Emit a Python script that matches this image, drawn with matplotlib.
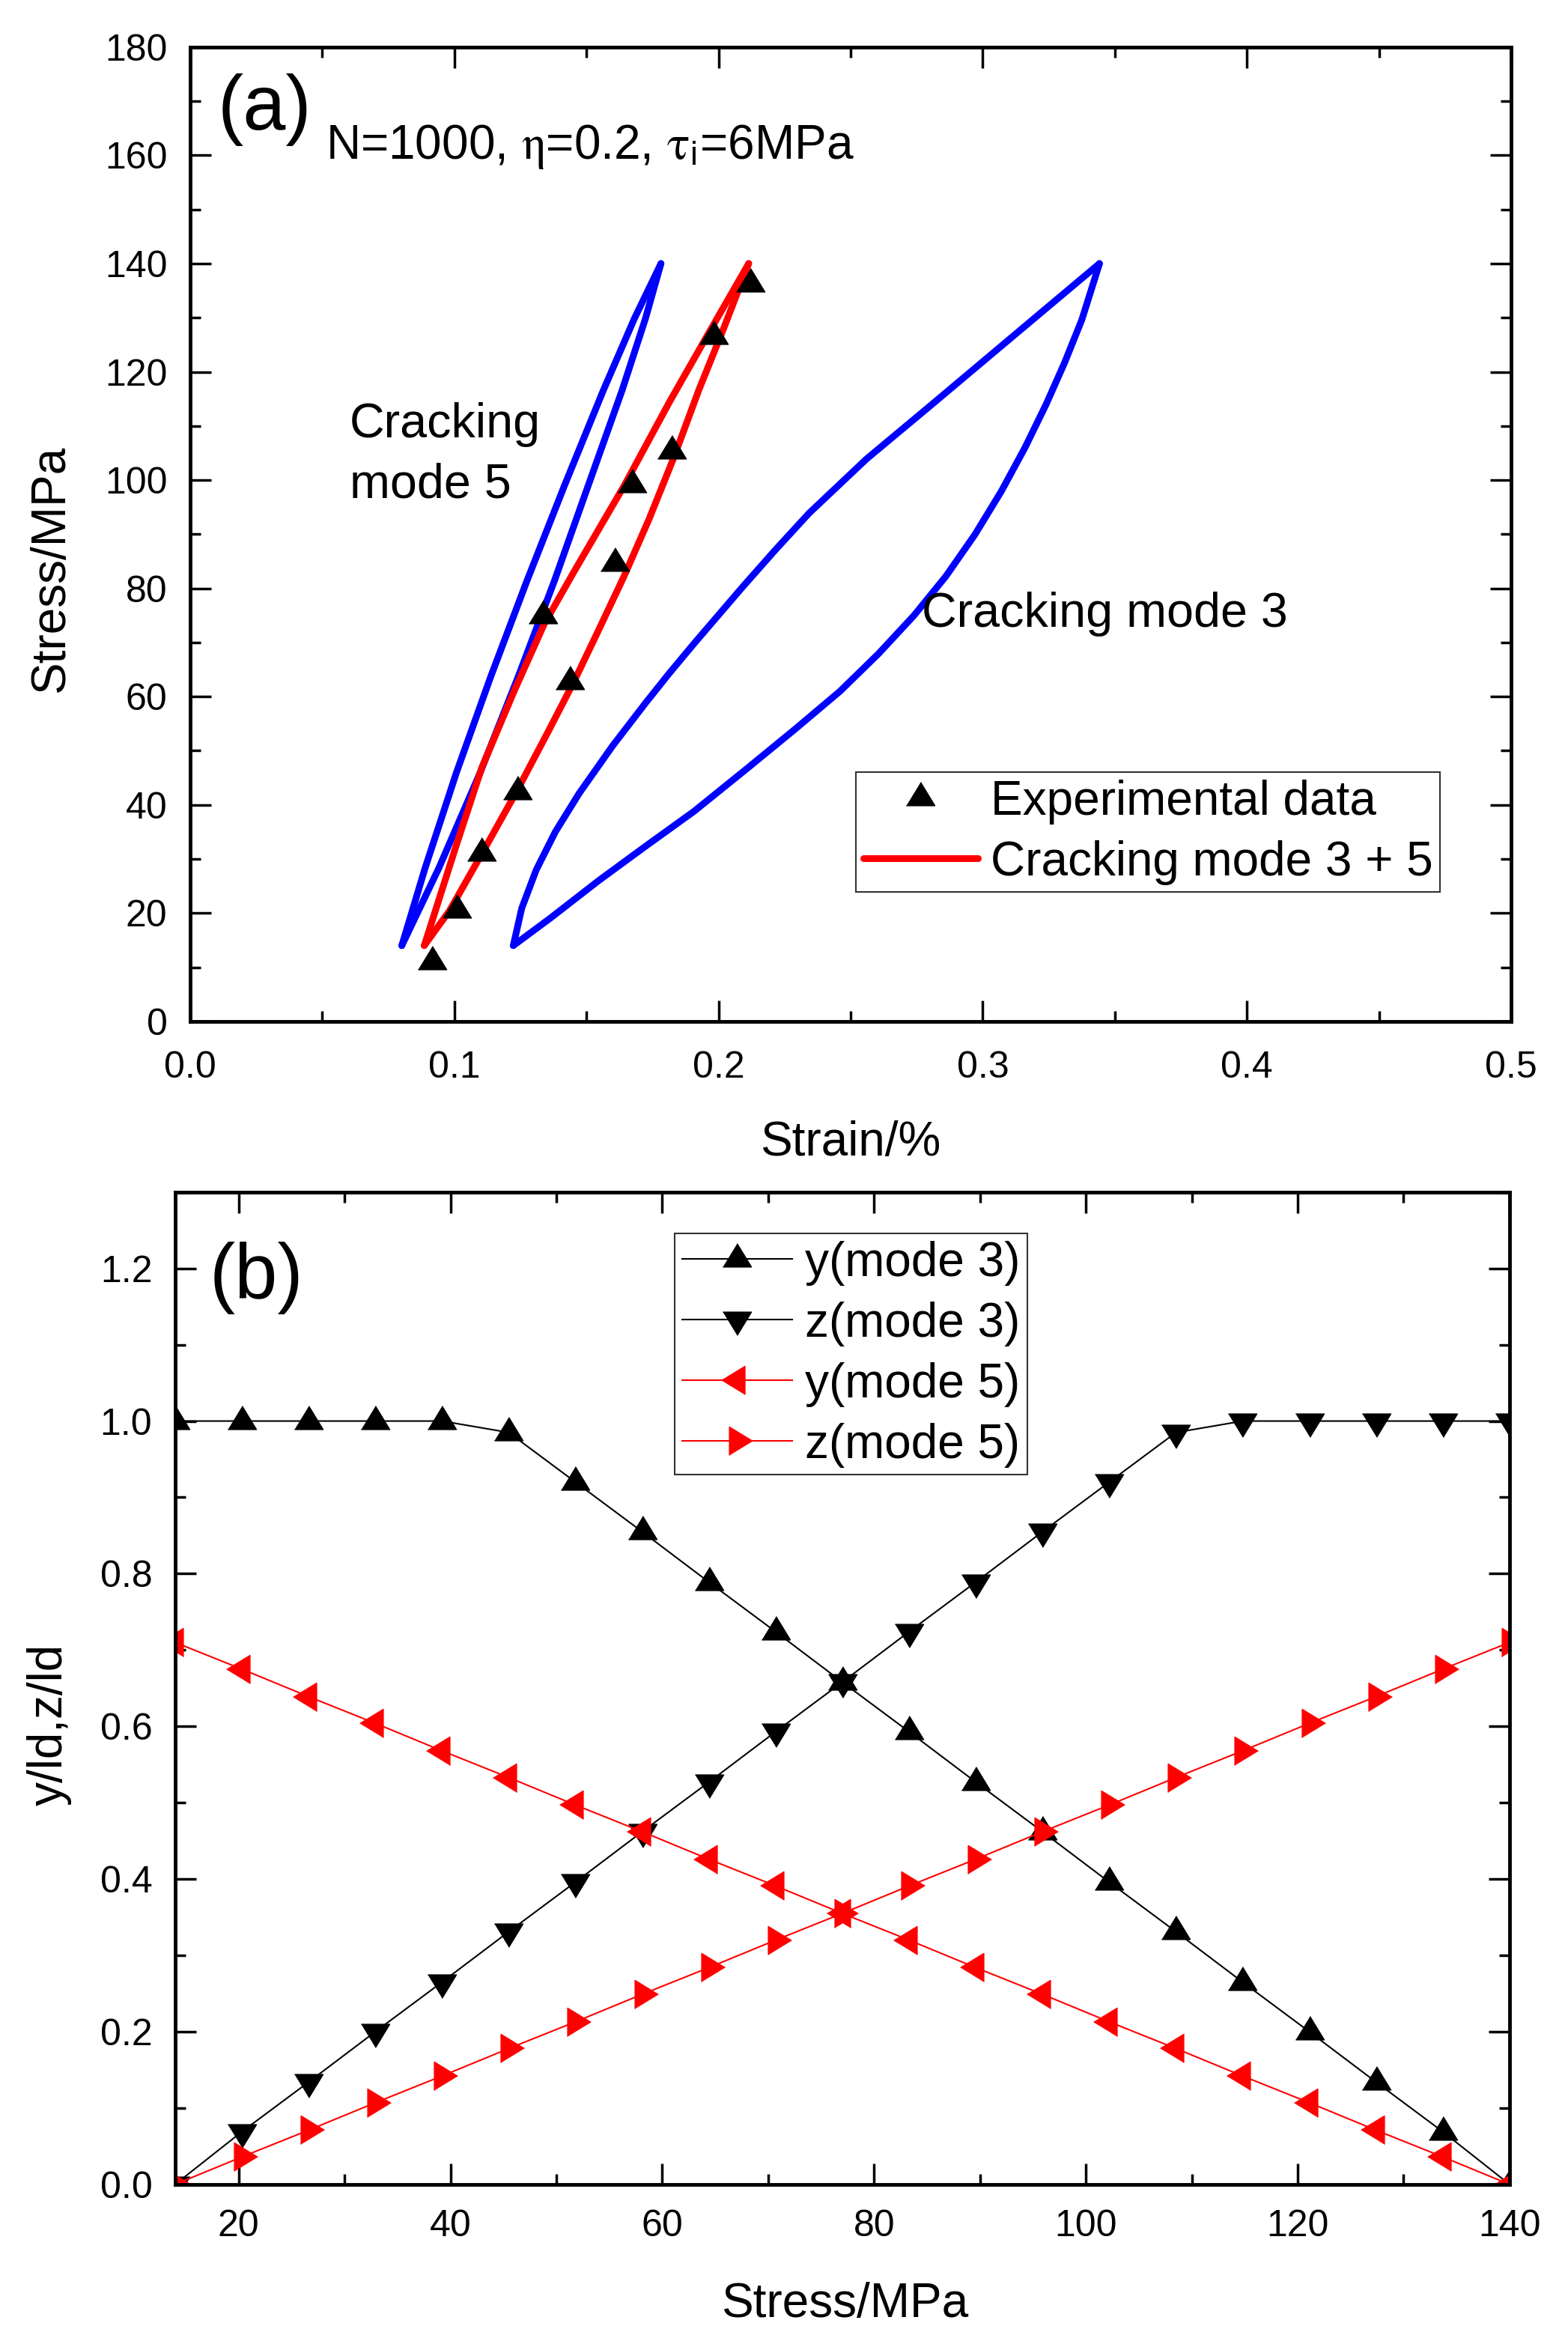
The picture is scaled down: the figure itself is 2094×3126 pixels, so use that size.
import matplotlib
matplotlib.use('Agg')
import matplotlib.pyplot as plt
from matplotlib.ticker import MultipleLocator

plt.rcParams['font.family'] = ['Liberation Sans', 'DejaVu Sans']
plt.rcParams['mathtext.fontset'] = 'stix'

# ---------------- panel (a) data ----------------
# experimental hysteresis points
exp_strain = [0.0915, 0.1009, 0.1102, 0.1239, 0.1436, 0.1335, 0.1606, 0.1672, 0.1823, 0.1980, 0.2120]
exp_stress = [11.0, 20.6, 31.1, 42.4, 62.8, 75.0, 84.7, 99.2, 105.4, 126.6, 136.3]

# cracking mode 5 loop (two branches, bottom tip to top tip)
m5_up_strain = [0.0801, 0.0889, 0.1008, 0.1137, 0.1274, 0.1416, 0.1564, 0.1681, 0.1782]
m5_up_stress = [14.0, 28.3, 46.0, 63.6, 81.3, 98.9, 116.6, 129.8, 140.0]
m5_lo_strain = [0.0801, 0.0941, 0.1098, 0.1241, 0.1378, 0.1506, 0.1635, 0.1723, 0.1782]
m5_lo_stress = [14.0, 28.3, 46.0, 63.6, 81.3, 98.9, 116.6, 129.8, 140.0]

# cracking mode 3 loop
m3_up_strain = [0.1223, 0.1255, 0.1310, 0.1382, 0.1472, 0.1599, 0.1725, 0.1815, 0.1909,
                0.2090, 0.2215, 0.2343, 0.2560, 0.2813, 0.3120, 0.3442]
m3_up_stress = [14.0, 20.9, 28.0, 35.0, 42.1, 50.9, 58.9, 64.4, 69.9,
                80.2, 87.1, 93.9, 103.9, 114.2, 126.8, 140.0]
m3_lo_strain = [0.1223, 0.1364, 0.1546, 0.1725, 0.1907, 0.2110, 0.2290, 0.2460, 0.2605,
                0.2740, 0.2860, 0.2970, 0.3070, 0.3160, 0.3240, 0.3310, 0.3375, 0.3442]
m3_lo_stress = [14.0, 19.1, 26.0, 32.4, 38.8, 46.8, 54.0, 61.0, 67.9,
                75.0, 82.2, 89.9, 97.9, 106.0, 114.0, 121.7, 129.6, 140.0]

# cracking mode 3 + 5 loop
m35_up_strain = [0.0886, 0.1009, 0.1104, 0.1226, 0.1340, 0.1453, 0.1642, 0.1815, 0.1955, 0.2114]
m35_up_stress = [14.0, 32.8, 46.9, 61.0, 73.4, 83.1, 98.9, 114.5, 126.5, 140.0]
m35_lo_strain = [0.0886, 0.0981, 0.1094, 0.1236, 0.1359, 0.1453, 0.1548, 0.1642, 0.1737, 0.1831, 0.1925, 0.2020, 0.2114]
m35_lo_stress = [14.0, 20.4, 30.1, 42.5, 53.9, 62.8, 72.5, 82.2, 92.8, 104.2, 116.6, 128.1, 140.0]

# ---------------- panel (b) data ----------------
stress_b = [14.0, 20.3, 26.6, 32.9, 39.2, 45.5, 51.8, 58.1, 64.4, 70.7, 77.0,
            83.3, 89.6, 95.9, 102.2, 108.5, 114.8, 121.1, 127.4, 133.7, 140.0]
y_mode3 = [1.0, 1.0, 1.0, 1.0, 1.0, 0.985, 0.92, 0.855, 0.789, 0.724, 0.658,
           0.593, 0.527, 0.462, 0.396, 0.331, 0.265, 0.200, 0.134, 0.069, 0.0]
z_mode3 = [0.0, 0.069, 0.134, 0.200, 0.265, 0.331, 0.396, 0.462, 0.527, 0.593, 0.658,
           0.724, 0.789, 0.855, 0.92, 0.985, 1.0, 1.0, 1.0, 1.0, 1.0]
y_mode5 = [0.71, 0.675, 0.639, 0.604, 0.568, 0.533, 0.497, 0.462, 0.426, 0.391, 0.355,
           0.320, 0.284, 0.249, 0.213, 0.178, 0.142, 0.107, 0.071, 0.036, 0.0]
z_mode5 = [0.0, 0.036, 0.071, 0.107, 0.142, 0.178, 0.213, 0.249, 0.284, 0.320, 0.355,
           0.391, 0.426, 0.462, 0.497, 0.533, 0.568, 0.604, 0.639, 0.675, 0.71]

# triangle markers centred on their centroid (like Origin)
tri_up = [(-0.915, -0.5), (0.915, -0.5), (0.0, 1.0)]
tri_down = [(-0.915, 0.5), (0.915, 0.5), (0.0, -1.0)]
tri_left = [(0.5, -0.915), (0.5, 0.915), (-1.0, 0.0)]
tri_right = [(-0.5, -0.915), (-0.5, 0.915), (1.0, 0.0)]
MS = 30

TICK_FS = 36
LABEL_FS = 46
TEXT_FS = 46.5
LEG_FS = 46


def style_axes(ax):
    for s in ax.spines.values():
        s.set_linewidth(3.5)
    ax.tick_params(which='both', direction='in', top=True, right=True,
                   labelsize=TICK_FS, width=2.5)
    ax.tick_params(which='major', length=20)
    ax.tick_params(which='minor', length=10)
    ax.tick_params(axis='y', pad=22)


fig = plt.figure(figsize=(20.94, 31.26), dpi=100)

# ---------------- panel (a) ----------------
ax1 = fig.add_axes([0.1213, 0.5637, 0.8424, 0.4162])
for xs, ys in [(m5_up_strain, m5_up_stress), (m5_lo_strain, m5_lo_stress),
               (m3_up_strain, m3_up_stress), (m3_lo_strain, m3_lo_stress)]:
    ax1.plot(xs, ys, color='#0000ff', lw=6.5, solid_capstyle='round', solid_joinstyle='round')
ax1.plot(m35_up_strain, m35_up_stress, color='#ff0000', lw=6.5, solid_capstyle='round',
         solid_joinstyle='round', label='Cracking mode 3 + 5')
ax1.plot(m35_lo_strain, m35_lo_stress, color='#ff0000', lw=6.5, solid_capstyle='round',
         solid_joinstyle='round')
ax1.plot(exp_strain, exp_stress, ls='none', marker=tri_up, ms=MS, color='black',
         label='Experimental data')

ax1.set_xlim(0, 0.5)
ax1.set_ylim(0, 180)
ax1.xaxis.set_minor_locator(MultipleLocator(0.05))
ax1.yaxis.set_major_locator(MultipleLocator(20))
ax1.yaxis.set_minor_locator(MultipleLocator(10))
ax1.set_xticks([0.0, 0.1, 0.2, 0.3, 0.4, 0.5])
ax1.set_xticklabels(['0.0', '0.1', '0.2', '0.3', '0.4', '0.5'])
style_axes(ax1)
ax1.tick_params(axis='x', pad=28)
ax1.set_xlabel('Strain/%', fontsize=LABEL_FS)
ax1.set_ylabel('Stress/MPa', fontsize=LABEL_FS)
ax1.xaxis.set_label_coords(0.5, -0.1015)
ax1.yaxis.set_label_coords(-0.0885, 0.464)

ax1.text(0.021, 0.9155, '(a)', transform=ax1.transAxes, fontsize=74, va='baseline')
ax1.text(0.1026, 0.8855, r'N=1000, $\mathrm{\eta}$=0.2, $\mathrm{\tau}_\mathregular{i}$=6MPa',
         transform=ax1.transAxes, fontsize=46, va='baseline')
ax1.text(0.1207, 0.5995, 'Cracking', transform=ax1.transAxes, fontsize=TEXT_FS, va='baseline')
ax1.text(0.1207, 0.5373, 'mode 5', transform=ax1.transAxes, fontsize=TEXT_FS, va='baseline')
ax1.text(0.5539, 0.4051, 'Cracking mode 3', transform=ax1.transAxes, fontsize=TEXT_FS,
         va='baseline')

h, l = ax1.get_legend_handles_labels()
leg1 = ax1.legend([h[1], h[0]], [l[1], l[0]], loc='upper left',
                  bbox_to_anchor=(1143 / 2094, 1 - 1031 / 3126),
                  bbox_transform=fig.transFigure, borderaxespad=0,
                  fontsize=LEG_FS, frameon=True, fancybox=False, edgecolor='black',
                  handlelength=2.4, handletextpad=0.27, borderpad=0.15,
                  labelspacing=0.33, numpoints=1)
leg1.get_frame().set_linewidth(1.5)

# ---------------- panel (b) ----------------
ax2 = fig.add_axes([0.1117, 0.0669, 0.851, 0.4239])
ax2.plot(stress_b, y_mode3, color='black', lw=1.5, marker=tri_up, ms=MS, label='y(mode 3)')
ax2.plot(stress_b, z_mode3, color='black', lw=1.5, marker=tri_down, ms=MS, label='z(mode 3)')
ax2.plot(stress_b, y_mode5, color='#ff0000', lw=1.5, marker=tri_left, ms=MS, label='y(mode 5)')
ax2.plot(stress_b, z_mode5, color='#ff0000', lw=1.5, marker=tri_right, ms=MS, label='z(mode 5)')

ax2.set_xlim(14, 140)
ax2.set_ylim(0, 1.3)
ax2.xaxis.set_major_locator(MultipleLocator(20))
ax2.xaxis.set_minor_locator(MultipleLocator(10))
ax2.yaxis.set_minor_locator(MultipleLocator(0.1))
ax2.set_yticks([0.0, 0.2, 0.4, 0.6, 0.8, 1.0, 1.2])
ax2.set_yticklabels(['0.0', '0.2', '0.4', '0.6', '0.8', '1.0', '1.2'])
style_axes(ax2)
ax2.tick_params(axis='x', pad=24)
ax2.set_xlabel('Stress/MPa', fontsize=LABEL_FS)
ax2.set_ylabel('y/ld,z/ld', fontsize=LABEL_FS)
ax2.xaxis.set_label_coords(0.502, -0.098)
ax2.yaxis.set_label_coords(-0.0774, 0.463)

ax2.text(0.0258, 0.8936, '(b)', transform=ax2.transAxes, fontsize=74, va='baseline')

leg2 = ax2.legend(loc='upper left', bbox_to_anchor=(901 / 2094, 1 - 1647 / 3126),
                  bbox_transform=fig.transFigure, borderaxespad=0,
                  fontsize=LEG_FS, frameon=True, fancybox=False, edgecolor='black',
                  handlelength=2.3, handletextpad=0.27, borderpad=0.15,
                  labelspacing=0.33, numpoints=1)
leg2.get_frame().set_linewidth(1.5)

fig.savefig('out.png', dpi=100, facecolor='white')
